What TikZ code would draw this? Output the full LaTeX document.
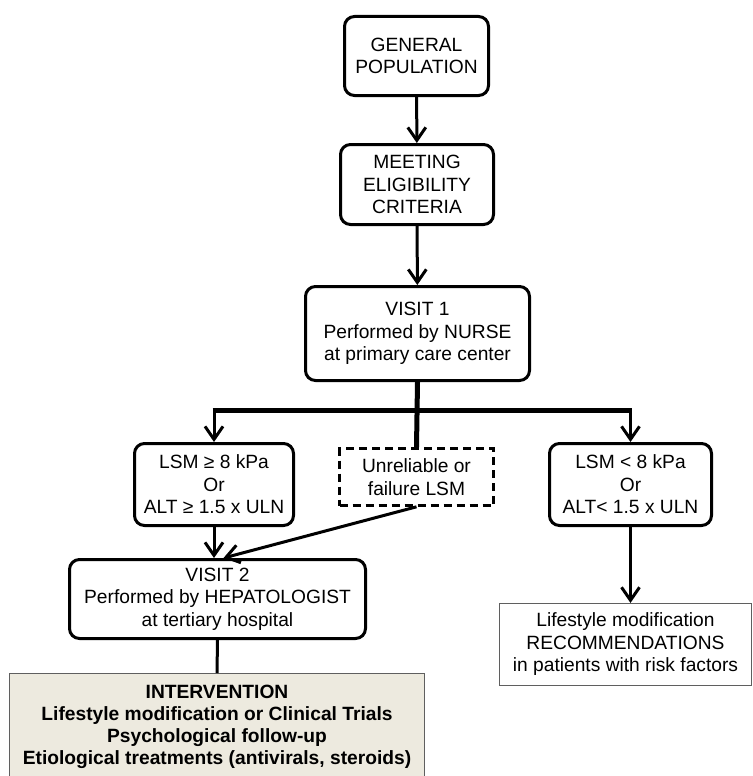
\documentclass[tikz,border=0pt]{standalone}
\usepackage{fontspec}
\setmainfont{Liberation Sans}
\usetikzlibrary{arrows.meta}
\definecolor{intbg}{RGB}{237,234,223}
\definecolor{thinedge}{RGB}{95,95,95}
\tikzset{every node/.style={align=center, inner sep=0pt, font=\fontsize{19.2}{22.5}\selectfont},
  roundbox/.style={draw, line width=3pt, rounded corners=10pt},
  dashbox/.style={draw, line width=2.6pt, dash pattern=on 8pt off 5pt},
  plainbox/.style={draw=thinedge, line width=1.2pt},
  intbox/.style={plainbox, fill=intbg, font=\bfseries\fontsize{19.2}{22}\selectfont},
  flow/.style={line width=3pt, -{Straight Barb[length=13pt,width=18pt]}},
  link/.style={line width=3pt},
  bar/.style={line width=5pt}}

\begin{document}
\begin{tikzpicture}[x=1pt,y=-1pt]
  \clip (0,0) rectangle (752,776);
  \node[roundbox, minimum width=144, minimum height=79] (gen)    at (416.5, 56)   {GENERAL\\POPULATION};
  \node[roundbox, minimum width=153, minimum height=80] (meet)   at (417, 184.5)  {MEETING\\ELIGIBILITY\\CRITERIA};
  \node[roundbox, minimum width=224, minimum height=94] (visit1) at (417.5, 333.5) {VISIT 1\\Performed by NURSE\\at primary care center};
  \node[roundbox, minimum width=159, minimum height=82] (lsmhi)  at (214, 484.5)  {LSM ≥ 8 kPa\\Or\\ALT ≥ 1.5 x ULN};
  \node[dashbox,  minimum width=154, minimum height=57] (unrel)  at (416.5, 477)  {Unreliable or\\failure LSM};
  \node[roundbox, minimum width=162, minimum height=82] (lsmlo)  at (630.5, 484.5) {LSM < 8 kPa\\Or\\ALT< 1.5 x ULN};
  \node[roundbox, minimum width=296, minimum height=79] (visit2) at (217.5, 599)  {VISIT 2\\Performed by HEPATOLOGIST\\at tertiary hospital};
  \node[plainbox, minimum width=252, minimum height=82] (reco)   at (625.5, 644.5) {Lifestyle modification\\RECOMMENDATIONS\\in patients with risk factors};
  \node[intbox, anchor=north, minimum width=415, inner ysep=11pt, text depth=30pt] (interv) at (217, 673)
    {INTERVENTION\\Lifestyle modification or Clinical Trials\\Psychological follow-up\\Etiological treatments (antivirals, steroids)};
  \coordinate (split) at (417, 410);
  \draw[flow] (gen) -- (meet);
  \draw[flow] (meet) -- (visit1);
  \draw[bar] (visit1.south) -- (unrel.north);
  \draw[bar] ([xshift=-1.5pt]split -| lsmhi.north) -- ([xshift=1.5pt]split -| lsmlo.north);
  \draw[flow] (split -| lsmhi.north) -- (lsmhi.north);
  \draw[flow] (split -| lsmlo.north) -- (lsmlo.north);
  \draw[flow] (lsmhi.south) -- (lsmhi.south |- visit2.north);
  \draw[flow] (unrel.south) -- ([xshift=6pt]visit2.north);
  \draw[flow] (lsmlo.south) -- (lsmlo.south |- reco.north);
  \draw[link] (visit2.south) -- (interv.north);
\end{tikzpicture}
\end{document}
